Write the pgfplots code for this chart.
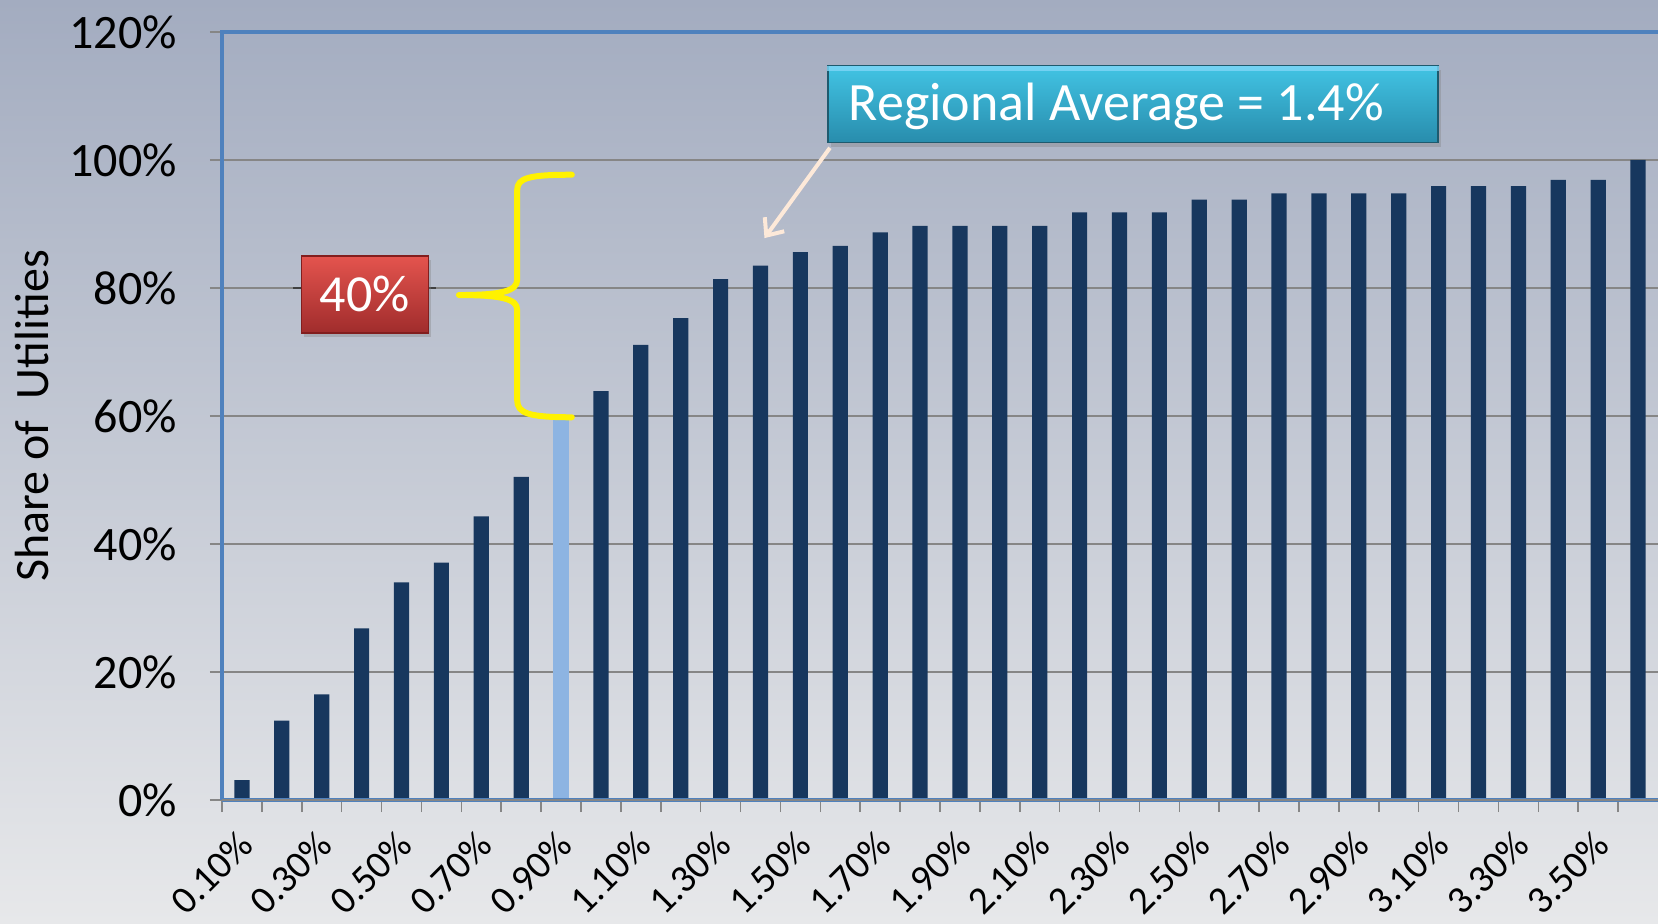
\documentclass[border=0pt]{standalone}
\usepackage{pgfplots}
\pgfplotsset{compat=1.18}
\usepackage{pgfplotstable}
\usepackage{fontspec}
\setmainfont{Carlito}
\usetikzlibrary{shadows,arrows.meta}

\definecolor{bgtop}{RGB}{163,172,192}
\definecolor{bgbot}{RGB}{231,232,234}
\definecolor{barDark}{RGB}{23,55,94}
\definecolor{barLight}{RGB}{141,180,226}
\definecolor{axblue}{RGB}{79,129,189}
\definecolor{gridgray}{RGB}{134,134,134}
\definecolor{redtop}{RGB}{228,84,78}
\definecolor{redbot}{RGB}{160,44,44}
\definecolor{rededge}{RGB}{130,30,30}
\definecolor{bluetop}{RGB}{66,196,228}
\definecolor{bluebot}{RGB}{40,140,172}
\definecolor{blueedge}{RGB}{30,90,110}
\definecolor{arrowpeach}{RGB}{253,233,217}

\pgfplotstableread{
x y
1 3.1
2 12.4
3 16.5
4 26.8
5 34.0
6 37.1
7 44.3
8 50.5
10 63.9
11 71.1
12 75.3
13 81.4
14 83.5
15 85.6
16 86.6
17 88.7
18 89.7
19 89.7
20 89.7
21 89.7
22 91.8
23 91.8
24 91.8
25 93.8
26 93.8
27 94.8
28 94.8
29 94.8
30 94.8
31 95.9
32 95.9
33 95.9
34 96.9
35 96.9
36 100
}\darkdata

\pgfplotstableread{
x y
9 59.8
}\lightdata

\begin{document}
\begin{tikzpicture}
\shade[top color=bgtop,bottom color=bgbot] (0,0) rectangle (829pt,461.5pt);
\path[use as bounding box] (0,0) rectangle (829pt,461.5pt);
\clip (0,0) rectangle (829pt,461.5pt);
\begin{axis}[
  at={(111pt,61.5pt)}, anchor=south west,
  scale only axis, width=718pt, height=384pt,
  xmin=0.5, xmax=36.5, ymin=0, ymax=120,
  axis line style={draw=none},
  tick pos=left,
  ytick={0,20,...,120},
  yticklabels={0\%,20\%,40\%,60\%,80\%,100\%,120\%},
  xtick={0.5,1.5,...,35.5}, xticklabels={},
  extra x ticks={1,3,...,35},
  extra x tick labels={0.10\%,0.30\%,0.50\%,0.70\%,0.90\%,1.10\%,1.30\%,1.50\%,1.70\%,1.90\%,2.10\%,2.30\%,2.50\%,2.70\%,2.90\%,3.10\%,3.30\%,3.50\%},
  extra x tick style={major tick length=0pt,
     xticklabel style={xshift=-3pt, yshift=-9.5pt, rotate=45, anchor=north east, font=\fontsize{19.5}{23}\selectfont}},
  tick align=outside, major tick length=6pt,
  tick style={gridgray, line width=0.8pt},
  ymajorgrids, grid style={gridgray, line width=1pt},
  yticklabel style={xshift=-13pt, font=\fontsize{24}{28}\selectfont},
  ylabel={Share of\ \ Utilities},
  ylabel style={font=\fontsize{24}{28}\selectfont, at={(axis description cs:0,0.5)}, anchor=center, yshift=95pt},
  clip=false,
]
\addplot[ybar, bar width=7.6pt, bar shift=0pt, fill=barDark, draw=none] table[x=x,y=y] {\darkdata};
\addplot[ybar, bar width=7.6pt, bar shift=0pt, fill=barLight, draw=none] table[x=x,y=y] {\lightdata};

% axis frame
\draw[axblue, line width=1.6pt] (rel axis cs:0,0) -- (rel axis cs:0,1) -- (rel axis cs:1,1);
\draw[axblue, line width=2pt] (rel axis cs:0,0) -- (rel axis cs:1,0);
\draw[gridgray, line width=1pt] (rel axis cs:0,0) -- (rel axis cs:1,0);

% 40% box
\draw[black!75, line width=0.8pt] (axis cs:2.28,80) -- (axis cs:5.86,80);
\node[draw=rededge, line width=0.6pt, top color=redtop, bottom color=redbot,
      minimum width=63.5pt, minimum height=38.5pt, inner sep=0pt,
      drop shadow={shadow xshift=1.5pt, shadow yshift=-2pt, opacity=0.35},
      text=white, font=\fontsize{26}{30}\selectfont] at (axis cs:4.08,79) {40\%};

% yellow brace
\draw[yellow, line width=3pt, line cap=round, line join=round]
  (axis cs:9.27,97.7) .. controls (axis cs:8.2,97.7) and (axis cs:7.9,97.2) .. (axis cs:7.9,95.3)
  -- (axis cs:7.9,81.3) .. controls (axis cs:7.9,79.5) and (axis cs:7.5,78.9) .. (axis cs:6.44,78.9)
  .. controls (axis cs:7.5,78.9) and (axis cs:7.9,78.3) .. (axis cs:7.9,76.6)
  -- (axis cs:7.9,62.5) .. controls (axis cs:7.9,60.4) and (axis cs:8.2,59.8) .. (axis cs:9.27,59.8);

% regional average box
\node[draw=blueedge, line width=0.6pt, top color=bluetop, bottom color=bluebot,
      minimum width=305pt, minimum height=38.5pt, inner sep=0pt,
      drop shadow={shadow xshift=1.5pt, shadow yshift=-2pt, opacity=0.35}]
      (rb) at (axis cs:23.34,108.7) {};
\fill[cyan!50!white, opacity=0.8] ([yshift=-0.5pt]rb.north west) rectangle ([yshift=-3pt]rb.north east);
\node[anchor=west, inner sep=0pt, text=white, font=\fontsize{27}{31}\selectfont]
      at ([xshift=10.5pt,yshift=-1pt]rb.west) {Regional Average = 1.4\%};

% arrow
\draw[arrowpeach, line width=2pt, -{Straight Barb[length=7pt, width=12pt]}]
  (axis cs:15.74,101.9) -- (axis cs:14.1,87.8);
\end{axis}
\end{tikzpicture}
\end{document}
